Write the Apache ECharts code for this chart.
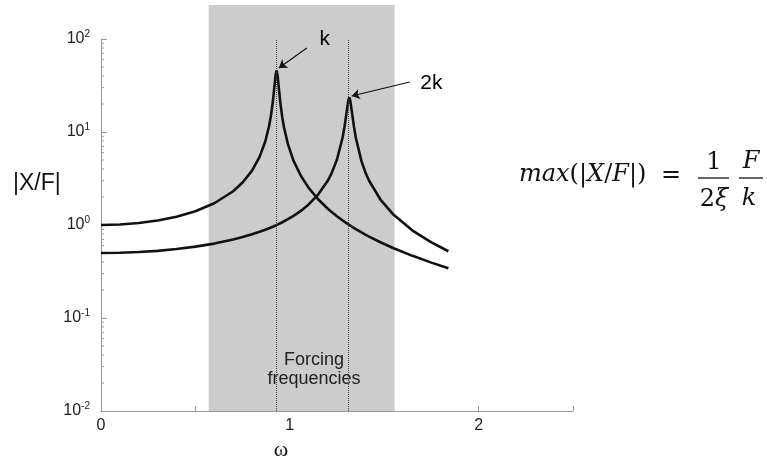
<!DOCTYPE html>
<html>
<head>
<meta charset="utf-8">
<script src="https://cdn.jsdelivr.net/npm/echarts@6/dist/echarts.min.js"></script>
<style>
html, body { margin: 0; padding: 0; background: #fff; }
#main { width: 767px; height: 461px; }
</style>
</head>
<body>
<div id="main"></div>
<script>
// frequency samples (omega) and amplitude |X/F|
var omega = [0, 0.1, 0.2, 0.3, 0.4, 0.5, 0.6, 0.7, 0.75, 0.8, 0.84, 0.87, 0.89,
    0.9, 0.91, 0.92, 0.925, 0.93, 0.935, 0.94, 0.95, 0.96, 0.97,
    0.99, 1.02, 1.06, 1.1, 1.15, 1.2, 1.22, 1.25, 1.28, 1.29,
    1.3, 1.31, 1.315, 1.32, 1.33, 1.34, 1.35, 1.38, 1.4, 1.42,
    1.48, 1.55, 1.65, 1.75, 1.84];
var ampK = [1.000, 1.012, 1.049, 1.116, 1.227, 1.407, 1.713, 2.307, 2.860, 3.846, 5.40, 7.90, 11.53,
    14.95, 21.0, 32.9, 41.3, 46.0, 40.9, 32.4, 20.5, 14.43, 11.02,
    7.40, 4.89, 3.34, 2.506, 1.890, 1.504, 1.387, 1.240, 1.118, 1.082,
    1.048, 1.016, 1.001, 0.986, 0.957, 0.929, 0.903, 0.832, 0.790, 0.751,
    0.653, 0.563, 0.466, 0.394, 0.343];
var amp2K = [0.500, 0.503, 0.512, 0.527, 0.551, 0.585, 0.631, 0.698, 0.741, 0.794, 0.845, 0.889, 0.922,
    0.940, 0.959, 0.979, 0.989, 1.000, 1.011, 1.022, 1.046, 1.070, 1.096,
    1.154, 1.255, 1.427, 1.664, 2.124, 2.964, 3.546, 5.055, 8.78, 11.47,
    15.86, 21.9, 23.5, 22.0, 15.84, 11.35, 8.61, 4.831, 3.701, 2.988,
    1.878, 1.286, 0.871, 0.649, 0.522];

// shaded forcing band and natural frequencies
var forcingBand = [0.57, 1.555];
var naturalFreq = [0.93, 1.315];

// annotation labels and arrows [x, y]
var noteLabels = [[1.185, 100, 'k'], [1.75, 33.7, '2k']];
var noteArrows = [
    [[1.09, 80], [0.942, 48.7]],
    [[1.635, 34.5], [1.328, 24.4]]
];

var xTickLabels = ['0', '1', '2'];
// minor ticks of the log axis (2..9 in each decade)
var yMinorTicks = [0.02, 0.03, 0.04, 0.05, 0.06, 0.07, 0.08, 0.09,
    0.2, 0.3, 0.4, 0.5, 0.6, 0.7, 0.8, 0.9,
    2, 3, 4, 5, 6, 7, 8, 9,
    20, 30, 40, 50, 60, 70, 80, 90];

var myChart = echarts.init(document.getElementById('main'));

var pair = function (ys) {
    return omega.map(function (w, i) { return [w, ys[i]]; });
};

var axisGray = '#999999';
var sans = 'Liberation Sans, Arial, sans-serif';
var serif = 'DejaVu Serif, serif';

var option = {
    animation: false,
    grid: [
        { left: 101, right: 194, top: 39, bottom: 50 },
        { left: 101, right: 194, top: 5, bottom: 50 }
    ],
    xAxis: [
        {
            type: 'value', gridIndex: 0, min: 0, max: 2.5, interval: 0.5,
            axisLine: { lineStyle: { color: axisGray } },
            axisTick: { inside: true, length: 5, lineStyle: { color: axisGray } },
            splitLine: { show: false },
            axisLabel: {
                margin: 7, color: '#222', fontSize: 16, fontFamily: sans,
                formatter: function (v) {
                    return xTickLabels.indexOf(String(v)) >= 0 ? String(v) : '';
                }
            }
        },
        { type: 'value', gridIndex: 1, min: 0, max: 2.5, show: false }
    ],
    yAxis: [
        {
            type: 'log', gridIndex: 0, logBase: 10, min: 0.01, max: 100,
            axisLine: { lineStyle: { color: axisGray } },
            axisTick: { inside: true, length: 6, lineStyle: { color: axisGray } },
            splitLine: { show: false },
            axisLabel: {
                margin: 11, color: '#222', fontFamily: sans,
                formatter: function (v) {
                    return '{b|10}{s|' + Math.round(Math.log10(v)) + '}';
                },
                rich: {
                    b: { fontSize: 16, fontFamily: sans, color: '#222' },
                    s: { fontSize: 10, fontFamily: sans, color: '#222', padding: [0, 0, 10, 0] }
                }
            }
        },
        { type: 'value', gridIndex: 1, min: 0, max: 1, show: false }
    ],
    series: [
        {
            // gray band of forcing frequencies
            type: 'line', xAxisIndex: 1, yAxisIndex: 1, data: [], z: -1, silent: true,
            markArea: {
                silent: true,
                itemStyle: { color: '#cccccc' },
                data: [[{ xAxis: forcingBand[0] }, { xAxis: forcingBand[1] }]]
            }
        },
        {
            // minor ticks on the log axis
            type: 'custom', silent: true, clip: false, z: 1,
            data: yMinorTicks.map(function (v) { return [0, v]; }),
            renderItem: function (params, api) {
                var p = api.coord([api.value(0), api.value(1)]);
                return {
                    type: 'line',
                    shape: { x1: p[0], y1: p[1], x2: p[0] + 3, y2: p[1] },
                    style: { stroke: axisGray, lineWidth: 1 }
                };
            }
        },
        {
            name: 'k', type: 'line', data: pair(ampK), symbol: 'none',
            lineStyle: { color: '#111', width: 2.6 },
            markLine: {
                silent: true, symbol: 'none', label: { show: false },
                lineStyle: { color: '#444', width: 1, type: 'dotted' },
                data: naturalFreq.map(function (f) { return { xAxis: f }; })
            }
        },
        {
            name: '2k', type: 'line', data: pair(amp2K), symbol: 'none',
            lineStyle: { color: '#111', width: 2.6 },
            markLine: {
                silent: true, symbol: ['none', 'arrow'], symbolSize: 8,
                label: { show: false },
                lineStyle: { color: '#111', width: 1.2, type: 'solid' },
                data: noteArrows.map(function (a) {
                    return [{ coord: a[0] }, { coord: a[1] }];
                })
            }
        },
        {
            type: 'scatter', data: noteLabels, symbolSize: 0, clip: false, silent: true,
            itemStyle: { opacity: 1 },
            label: {
                show: true, position: 'inside', color: '#000', fontSize: 21, fontFamily: sans,
                textBorderWidth: 0,
                formatter: function (p) { return p.data[2]; }
            }
        }
    ],
    graphic: [
        { type: 'text', left: 13, top: 172, style: { text: '|X/F|', fontSize: 23, fontFamily: sans, fill: '#111' } },
        { type: 'text', x: 281, y: 450, style: { text: 'ω', fontSize: 22, fontFamily: 'Liberation Serif, serif', fill: '#111', align: 'center', verticalAlign: 'middle' } },
        { type: 'text', x: 314, y: 360, z: 5, style: { text: 'Forcing', fontSize: 18, fontFamily: sans, fill: '#222', align: 'center', verticalAlign: 'middle' } },
        { type: 'text', x: 314, y: 379, z: 5, style: { text: 'frequencies', fontSize: 18, fontFamily: sans, fill: '#222', align: 'center', verticalAlign: 'middle' } },
        // formula on the right
        {
            type: 'text', x: 519, y: 175,
            style: {
                text: '{i|max}{r|(|}{i|X}{r|/}{i|F}{r||)}',
                verticalAlign: 'middle',
                rich: {
                    i: { fontSize: 24, fontFamily: serif, fontStyle: 'italic', fill: '#111' },
                    r: { fontSize: 24, fontFamily: serif, fill: '#111' }
                }
            }
        },
        { type: 'text', x: 671, y: 176, style: { text: '=', fontSize: 24, fontFamily: serif, fill: '#111', align: 'center', verticalAlign: 'middle' } },
        { type: 'text', x: 714, y: 163, style: { text: '1', fontSize: 24, fontFamily: serif, fill: '#111', align: 'center', verticalAlign: 'middle' } },
        { type: 'line', shape: { x1: 698, y1: 178, x2: 729, y2: 178 }, style: { stroke: '#111', lineWidth: 1.3 } },
        {
            type: 'text', x: 714, y: 200,
            style: {
                text: '{r|2}{i|ξ}', align: 'center', verticalAlign: 'middle',
                rich: {
                    i: { fontSize: 24, fontFamily: serif, fontStyle: 'italic', fill: '#111' },
                    r: { fontSize: 24, fontFamily: serif, fill: '#111' }
                }
            }
        },
        { type: 'text', x: 751, y: 162, style: { text: 'F', fontSize: 24, fontFamily: serif, fontStyle: 'italic', fill: '#111', align: 'center', verticalAlign: 'middle' } },
        { type: 'line', shape: { x1: 739, y1: 178, x2: 763, y2: 178 }, style: { stroke: '#111', lineWidth: 1.3 } },
        { type: 'text', x: 749, y: 199, style: { text: 'k', fontSize: 24, fontFamily: serif, fontStyle: 'italic', fill: '#111', align: 'center', verticalAlign: 'middle' } }
    ]
};

myChart.setOption(option);
window.onresize = myChart.resize;
</script>
</body>
</html>
